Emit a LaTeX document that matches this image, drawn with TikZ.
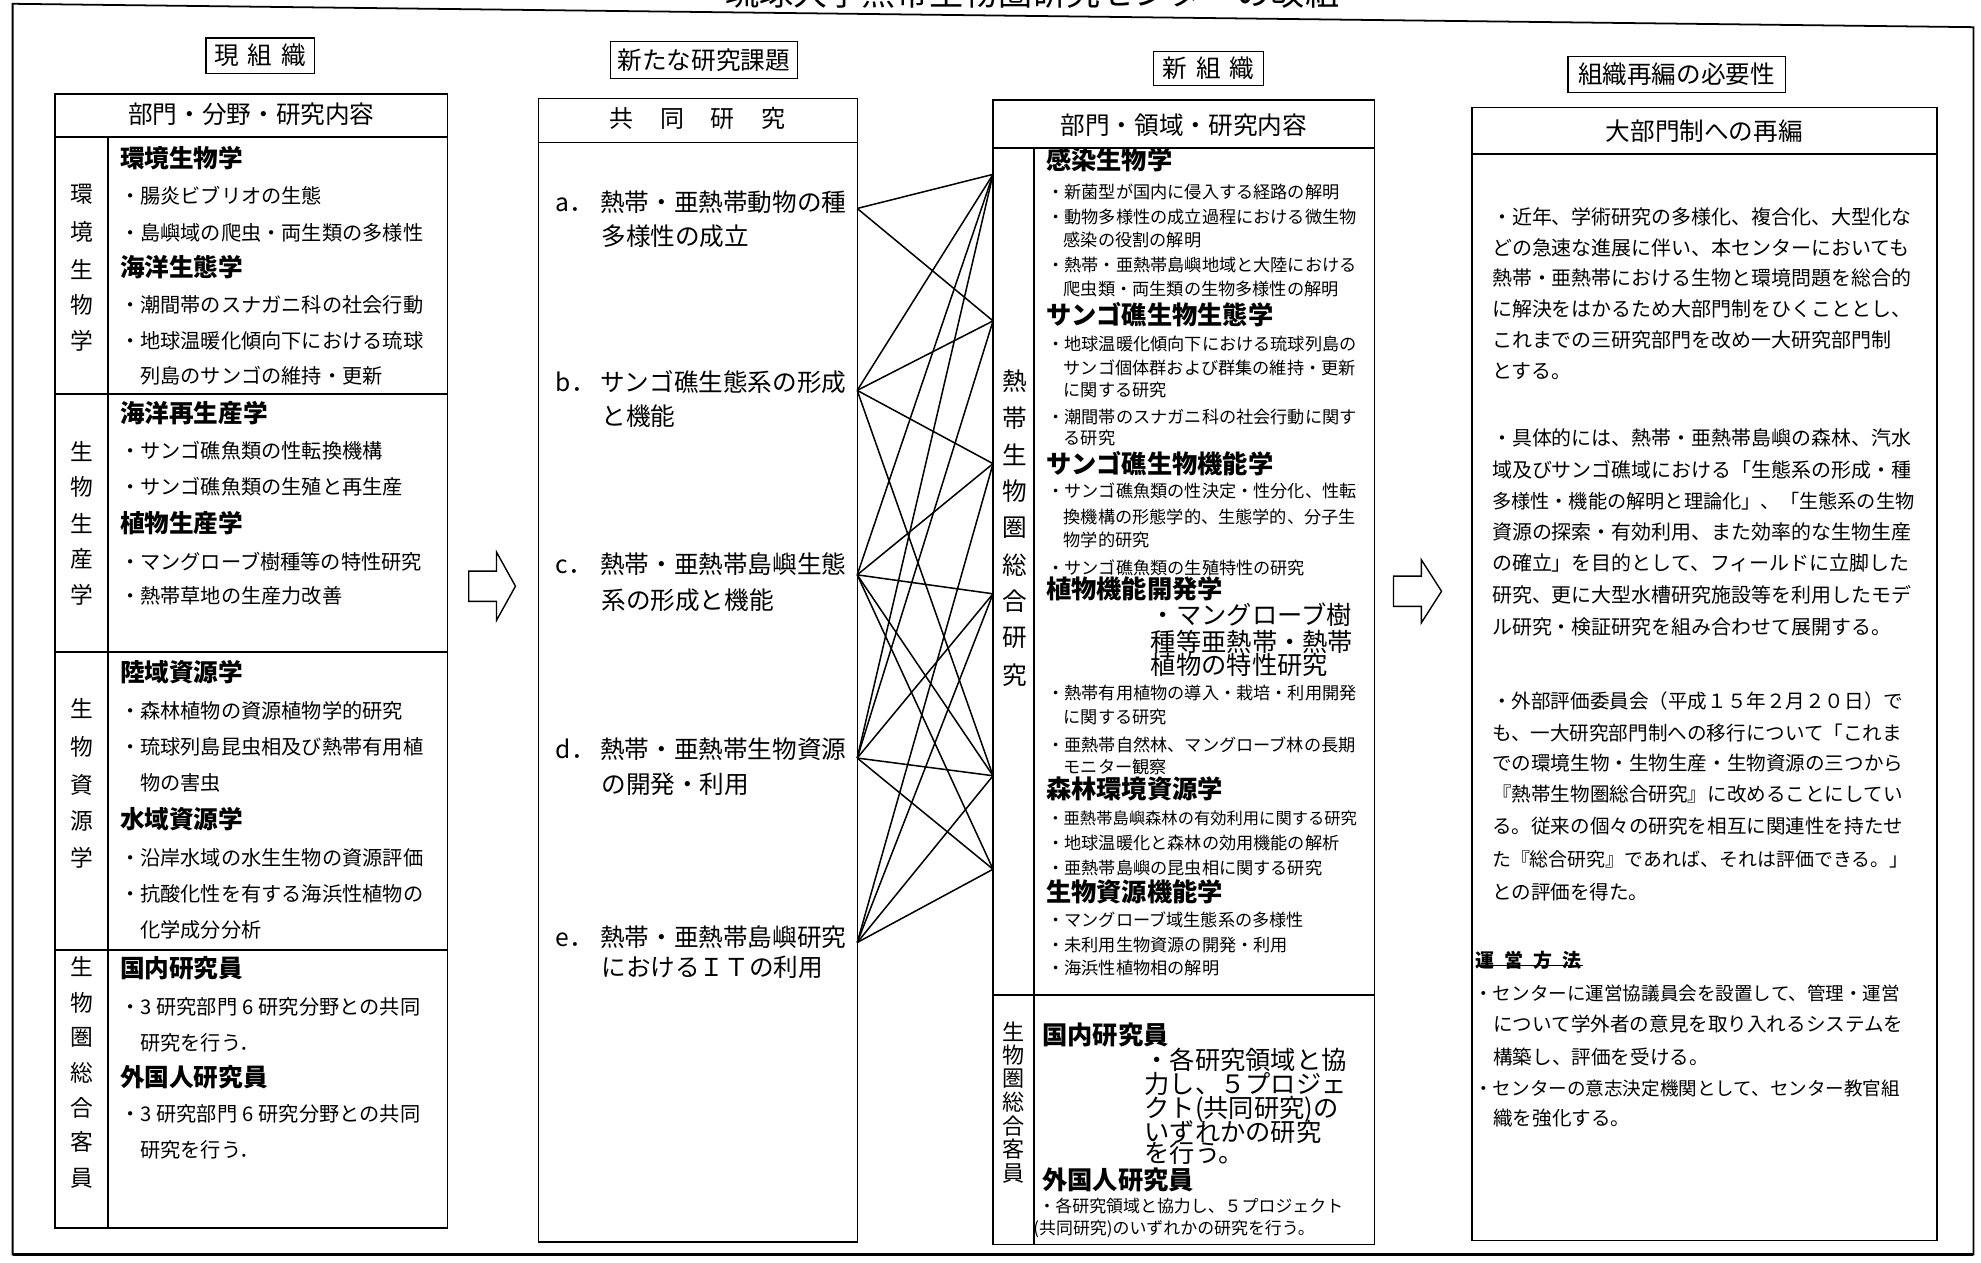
\documentclass[tikz,border=0pt]{standalone}
\usepackage{fontspec}
\setmainfont{Noto Sans CJK JP}
\newcommand\fsz[1]{\fontsize{#1pt}{#1pt}\selectfont}
\tikzset{
  tx/.style={anchor=base west,inner sep=0pt,outer sep=0pt},
  L/.style={tx,font=\fsz{#1},yshift={-0.37*#1*1pt}},
  B/.style={tx,font=\fsz{#1}\bfseries,yshift={-0.37*#1*1pt}},
  C/.style={anchor=center,inner sep=0pt,outer sep=0pt,font=\fsz{#1}},
  lab/.style={draw,line width=1pt,inner sep=0pt,anchor=center,font=\fsz{19.5}},
  bx/.style={line width=1.1pt},
  conn/.style={line width=1.2pt},
  arr/.style={line width=1.1pt,line join=miter},
}
\begin{document}
\begin{tikzpicture}[x=1pt,y=-1pt]
\useasboundingbox (0,0) rectangle (1568,999);
\fill[white] (0,0) rectangle (1568,999);

% title (cut at the top of the page)
\node[tx,font=\fsz{27}] (title) at (574,4) {琉球大学熱帯生物圏研究センターの改組};

% outer frame
\draw[line width=1.4pt] (10,3) -- (1562,21.5) -- (1562,993) -- (10,993) -- cycle;
\draw[line width=2pt] (10,993) -- (1562,993);

% ---------------- section labels
\node[lab,minimum width=86pt,minimum height=28pt] (lb1) at (206,44) {現\hspace{7pt}組\hspace{7pt}織};
\node[lab,minimum width=148pt,minimum height=29pt] (lb2) at (557,47.5) {新たな研究課題};
\node[lab,minimum width=87pt,minimum height=27pt] (lb3) at (956.5,54) {新\hspace{7pt}組\hspace{7pt}織};
\node[lab,minimum width=172pt,minimum height=28pt] (lb4) at (1327,59) {組織再編の必要性};

% ---------------- left column (current organisation)
\draw[bx] (43.5,74.5) rectangle (354,972);
\draw[bx] (43.5,108.5) -- (354,108.5);
\draw[bx] (85.5,108.5) -- (85.5,972);
\foreach \yy in {312,516,752} \draw[bx] (43.5,\yy) -- (354,\yy);
\node[C=19.5] (lhead) at (199,90) {部門・分野・研究内容};

\foreach \ch/\yy [count=\i] in {環/154,境/183.5,生/213,物/241.5,学/270}
  \node[C=18] (va\i) at (64.5,\yy) {\ch};
\foreach \ch/\yy [count=\i] in {生/357,物/385,生/414,産/442.5,学/471}
  \node[C=18] (vb\i) at (64.5,\yy) {\ch};
\foreach \ch/\yy [count=\i] in {生/561,物/591,資/621,源/650,学/679}
  \node[C=18] (vc\i) at (64.5,\yy) {\ch};
\foreach \ch/\yy [count=\i] in {生/765,物/793.5,圏/821,総/849.5,合/877,客/904,員/932.5}
  \node[C=18] (vd\i) at (64.5,\yy) {\ch};

\node[B=19.5] (e1) at (95,125.5) {環境生物学};
\node[L=16] (e2) at (95,155) {・腸炎ビブリオの生態};
\node[L=16] (e3) at (95,184.5) {・島嶼域の爬虫・両生類の多様性};
\node[B=19.5] (e4) at (95,212) {海洋生態学};
\node[L=16] (e5) at (95,241.5) {・潮間帯のスナガニ科の社会行動};
\node[L=16] (e6) at (95,270) {・地球温暖化傾向下における琉球};
\node[L=16] (e7) at (111,298) {列島のサンゴの維持・更新};
\node[B=19.5] (p1) at (95,327.5) {海洋再生産学};
\node[L=16] (p2) at (95,357) {・サンゴ礁魚類の性転換機構};
\node[L=16] (p3) at (95,385.5) {・サンゴ礁魚類の生殖と再生産};
\node[B=19.5] (p4) at (95,414) {植物生産学};
\node[L=16] (p5) at (95,444.5) {・マングローブ樹種等の特性研究};
\node[L=16] (p6) at (95,472) {・熱帯草地の生産力改善};
\node[B=19.5] (s1) at (95,532) {陸域資源学};
\node[L=16] (s2) at (95,562.5) {・森林植物の資源植物学的研究};
\node[L=16] (s3) at (95,591) {・琉球列島昆虫相及び熱帯有用植};
\node[L=16] (s4) at (111,620) {物の害虫};
\node[B=19.5] (s5) at (95,648.5) {水域資源学};
\node[L=16] (s6) at (95,679) {・沿岸水域の水生生物の資源評価};
\node[L=16] (s7) at (95,707.5) {・抗酸化性を有する海浜性植物の};
\node[L=16] (s8) at (111,736) {化学成分分析};
\node[B=19.5] (g1) at (95,766.5) {国内研究員};
\node[L=16] (g2) at (95,797) {・3\hspace{4pt}研究部門\hspace{4pt}6\hspace{4pt}研究分野との共同};
\node[L=16] (g3) at (111,825.5) {研究を行う．};
\node[B=19.5] (g4) at (95,853) {外国人研究員};
\node[L=16] (g5) at (95,881.5) {・3\hspace{4pt}研究部門\hspace{4pt}6\hspace{4pt}研究分野との共同};
\node[L=16] (g6) at (111,910) {研究を行う．};

% arrow 1
\draw[arr] (371,452) -- (393,452) -- (393,437) -- (408,464) -- (393,491) -- (393,476) -- (371,476) -- cycle;

% ---------------- middle column (new research themes)
\draw[bx] (426,78) rectangle (678.5,983);
\draw[bx] (426,113) -- (678.5,113);
\node[C=19] (mhead) at (552,93.5) {共\hspace{21pt}同\hspace{21pt}研\hspace{21pt}究};

\node[L=19.5] (ma1) at (440,160) {\makebox[35pt][l]{a．}熱帯・亜熱帯動物の種};
\node[L=19.5] (ma2) at (476,187) {多様性の成立};
\node[L=19.5] (mb1) at (440,302.5) {\makebox[35pt][l]{b．}サンゴ礁生態系の形成};
\node[L=19.5] (mb2) at (476,329.5) {と機能};
\node[L=19.5] (mc1) at (440,446.5) {\makebox[35pt][l]{c．}熱帯・亜熱帯島嶼生態};
\node[L=19.5] (mc2) at (476,475) {系の形成と機能};
\node[L=19.5] (md1) at (440,593.5) {\makebox[35pt][l]{d．}熱帯・亜熱帯生物資源};
\node[L=19.5] (md2) at (476,620.5) {の開発・利用};
\node[L=19.5] (me1) at (440,742) {\makebox[35pt][l]{e．}熱帯・亜熱帯島嶼研究};
\node[L=19.5] (me2) at (476,765.5) {におけるＩＴの利用};

% connector end points
\coordinate (pa) at (678.5,165);
\coordinate (pb) at (678.5,309);
\coordinate (pc) at (678.5,455);
\coordinate (pd) at (678.5,600);
\coordinate (pe) at (678.5,746);
\coordinate (q1) at (786,138);
\coordinate (q2) at (786,254);
\coordinate (q3) at (786,367);
\coordinate (q4) at (786,470);
\coordinate (q5) at (786,614);
\coordinate (q6) at (786,688);
\foreach \s/\t in {pa/q1,pa/q2,
  pb/q1,pb/q2,pb/q3,pb/q5,
  pc/q1,pc/q3,pc/q4,pc/q5,pc/q6,
  pd/q1,pd/q2,pd/q4,pd/q5,pd/q6,
  pe/q3,pe/q4,pe/q5,pe/q6}
  \draw[conn] (\s) -- (\t);

% ---------------- new organisation column
\draw[bx] (786,79) rectangle (1088,985);
\draw[bx] (786,117) -- (1088,117);
\draw[bx] (786,787.5) -- (1088,787.5);
\draw[bx] (818.5,117) -- (818.5,985);
\node[C=19.5] (nhead) at (937,99) {部門・領域・研究内容};

\foreach \ch/\yy [count=\i] in {熱/302,帯/331,生/360,物/389,圏/418,総/447,合/476,研/505,究/534}
  \node[C=19.5] (vn\i) at (803,\yy) {\ch};
\foreach \ch/\yy [count=\i] in {生/817,物/835.5,圏/854,総/872.5,合/891,客/909.5,員/928.5}
  \node[C=17.5] (vm\i) at (802,\yy) {\ch};

\node[B=20] (n1) at (828,127) {感染生物学};
\node[L=13.6] (n2) at (829,152) {・新菌型が国内に侵入する経路の解明};
\node[L=13.6] (n3) at (829,171.5) {・動物多様性の成立過程における微生物};
\node[L=13.6] (n4) at (842,190) {感染の役割の解明};
\node[L=13.6] (n5) at (829,210) {・熱帯・亜熱帯島嶼地域と大陸における};
\node[L=13.6] (n6) at (842,228.5) {爬虫類・両生類の生物多様性の解明};
\node[B=20] (n7) at (828,249.5) {サンゴ礁生物生態学};
\node[L=13.6] (n8) at (829,272) {・地球温暖化傾向下における琉球列島の};
\node[L=13.6] (n9) at (842,291.5) {サンゴ個体群および群集の維持・更新};
\node[L=13.6] (n10) at (842,309) {に関する研究};
\node[L=13.6] (n11) at (829,330) {・潮間帯のスナガニ科の社会行動に関す};
\node[L=13.6] (n12) at (842,347) {る研究};
\node[B=20] (n13) at (828,367) {サンゴ礁生物機能学};
\node[L=13.6] (n14) at (829,389) {・サンゴ礁魚類の性決定・性分化、性転};
\node[L=13.6] (n15) at (842,409) {換機構の形態学的、生態学的、分子生};
\node[L=13.6] (n16) at (842,427.5) {物学的研究};
\node[L=13.6] (n17) at (829,450) {・サンゴ礁魚類の生殖特性の研究};
\node[B=20] (n18) at (828,466) {植物機能開発学};
\node[L=20] (n19) at (911,487) {・マングローブ樹};
\node[L=20] (n20) at (911,508) {種等亜熱帯・熱帯};
\node[L=20] (n21) at (911,526.5) {植物の特性研究};
\node[L=13.6] (n22) at (829,549) {・熱帯有用植物の導入・栽培・利用開発};
\node[L=13.6] (n23) at (842,567.5) {に関する研究};
\node[L=13.6] (n24) at (829,590) {・亜熱帯自然林、マングローブ林の長期};
\node[L=13.6] (n25) at (842,607) {モニター観察};
\node[B=20] (n26) at (828,624.5) {森林環境資源学};
\node[L=12.9] (n27) at (829,648) {・亜熱帯島嶼森林の有効利用に関する研究};
\node[L=13.6] (n28) at (829,667.5) {・地球温暖化と森林の効用機能の解析};
\node[L=13.6] (n29) at (829,687.5) {・亜熱帯島嶼の昆虫相に関する研究};
\node[B=20] (n30) at (828,706) {生物資源機能学};
\node[L=13.6] (n31) at (829,728.5) {・マングローブ域生態系の多様性};
\node[L=13.6] (n32) at (829,748) {・未利用生物資源の開発・利用};
\node[L=13.6] (n33) at (829,766.5) {・海浜性植物相の解明};

\node[B=20] (k1) at (825,819) {国内研究員};
\node[L=20] (k2) at (906,839) {・各研究領域と協};
\node[L=20] (k3) at (906,858.5) {力し、５プロジェ};
\node[L=20] (k4) at (906,877.5) {クト(共同研究)の};
\node[L=20] (k5) at (906,896) {いずれかの研究};
\node[L=20] (k6) at (906,913) {を行う。};
\node[B=20] (k7) at (825,934) {外国人研究員};
\node[L=13.4] (k8) at (822,955) {・各研究領域と協力し、５プロジェクト};
\node[L=13.4] (k9) at (818,972.5) {(共同研究)のいずれかの研究を行う。};

% arrow 2
\draw[arr] (1103,456) -- (1125,456) -- (1125,443) -- (1141,468) -- (1125,493) -- (1125,480) -- (1103,480) -- cycle;

% ---------------- right column (need for reorganisation)
\draw[bx] (1165,85) rectangle (1533,982);
\draw[bx] (1165,122) -- (1533,122);
\node[C=19.5] (rhead) at (1349,104) {大部門制への再編};

\node[L=15.8] (r1) at (1181,171.5) {・近年、学術研究の多様化、複合化、大型化な};
\node[L=15.8] (r2) at (1181,196) {どの急速な進展に伴い、本センターにおいても};
\node[L=15.8] (r3) at (1181,220.5) {熱帯・亜熱帯における生物と環境問題を総合的};
\node[L=15.8] (r4) at (1181,245) {に解決をはかるため大部門制をひくこととし、};
\node[L=15.8] (r5) at (1181,269.5) {これまでの三研究部門を改め一大研究部門制};
\node[L=15.8] (r6) at (1181,294) {とする。};

\node[L=15.8] (r7) at (1181,347) {・具体的には、熱帯・亜熱帯島嶼の森林、汽水};
\node[L=15.8] (r8) at (1181,372) {域及びサンゴ礁域における「生態系の形成・種};
\node[L=15.2] (r9) at (1181,396.5) {多様性・機能の解明と理論化」、「生態系の生物};
\node[L=15.8] (r10) at (1181,421) {資源の探索・有効利用、また効率的な生物生産};
\node[L=15.8] (r11) at (1181,446) {の確立」を目的として、フィールドに立脚した};
\node[L=15.8] (r12) at (1181,471) {研究、更に大型水槽研究施設等を利用したモデ};
\node[L=15.8] (r13) at (1181,496) {ル研究・検証研究を組み合わせて展開する。};

\node[L=15.5] (r14) at (1181,555) {・外部評価委員会（平成１５年２月２０日）で};
\node[L=15.5] (r15) at (1181,580) {も、一大研究部門制への移行について「これま};
\node[L=15.5] (r16) at (1181,604) {での環境生物・生物生産・生物資源の三つから};
\node[L=15.5] (r17) at (1181,629) {『熱帯生物圏総合研究』に改めることにしてい};
\node[L=15.5] (r18) at (1181,654) {る。従来の個々の研究を相互に関連性を持たせ};
\node[L=15] (r19) at (1181,680) {た『総合研究』であれば、それは評価できる。」};
\node[L=15.5] (r20) at (1181,706) {との評価を得た。};

\node[B=15] (r21) at (1168,760) {運\hspace{8pt}営\hspace{8pt}方\hspace{8pt}法};
\draw[line width=1pt] (r21.south west) ++(0,-3) -- ++(85,0);
\node[L=14.7] (r22) at (1167,786.5) {・センターに運営協議員会を設置して、管理・運営};
\node[L=15.5] (r23) at (1182,811) {について学外者の意見を取り入れるシステムを};
\node[L=15.5] (r24) at (1182,837) {構築し、評価を受ける。};
\node[L=14.7] (r25) at (1167,862) {・センターの意志決定機関として、センター教官組};
\node[L=15.5] (r26) at (1182,885) {織を強化する。};

\end{tikzpicture}
\end{document}
